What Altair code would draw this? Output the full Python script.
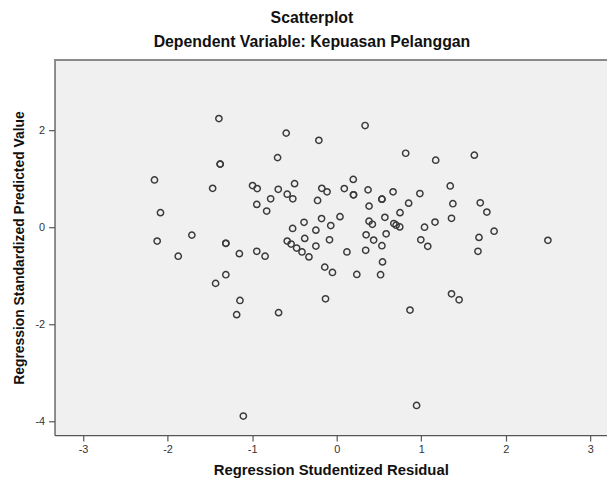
import altair as alt
import pandas as pd

# Regression Studentized Residual (x) and Regression Standardized Predicted Value (y)
residual = [
    -1.393, -0.597, -0.699, -1.378, -1.378, -2.155, -1.467, -0.995, -0.940, -0.498,
    -0.691, -0.585, -0.519, -0.781, -0.945, -0.828, -2.084, -0.386, -0.521, 0.336,
    -0.211, 0.816, 1.171, 1.628, 0.196, -0.176, -0.114, 0.090, 0.199, 0.199,
    0.371, 0.667, 0.984, 1.343, -0.226, 0.535, 0.535, 0.851, 1.374, 0.383,
    0.749, 0.039, -0.179, 0.570, 1.358, 0.383, 0.422, -0.070, 0.676, 0.703,
    0.746, 1.039, 1.163, -0.246, 1.698, 1.776, 1.862, -2.123, -1.713, -1.874,
    -1.311, -1.311, -1.151, -0.945, -0.847, -1.311, -1.432, -1.144, -1.183, -0.687,
    -0.378, -0.585, -0.539, -0.474, -0.410, -0.328, -0.085, -0.246, 0.121, -0.141,
    -0.050, 0.238, 0.519, 0.542, 0.348, 0.437, 0.343, 0.535, 0.585, 0.995,
    1.077, -0.132, 0.867, 1.358, 1.448, 1.683, 1.671, 2.498, -1.104, 0.945,
]
predicted = [
    2.242, 1.942, 1.437, 1.303, 1.303, 0.976, 0.804, 0.860, 0.798, 0.900,
    0.784, 0.682, 0.588, 0.588, 0.472, 0.335, 0.302, 0.104, -0.024, 2.099,
    1.793, 1.527, 1.384, 1.488, 0.988, 0.804, 0.731, 0.798, 0.670, 0.670,
    0.772, 0.731, 0.696, 0.853, 0.553, 0.580, 0.580, 0.498, 0.486, 0.437,
    0.302, 0.220, 0.180, 0.206, 0.186, 0.125, 0.063, 0.037, 0.078, 0.043,
    0.008, 0.002, 0.108, -0.059, 0.506, 0.314, -0.080, -0.284, -0.161, -0.596,
    -0.331, -0.331, -0.543, -0.494, -0.596, -0.978, -1.156, -1.509, -1.801, -1.760,
    -0.229, -0.284, -0.345, -0.427, -0.508, -0.610, -0.257, -0.386, -0.508, -0.821,
    -0.931, -0.972, -0.978, -0.713, -0.155, -0.263, -0.474, -0.380, -0.135, -0.257,
    -0.392, -1.474, -1.707, -1.372, -1.494, -0.208, -0.494, -0.269, -3.891, -3.673,
]
x_ticks = [-3, -2, -1, 0, 1, 2, 3]
y_ticks = [-4, -2, 0, 2]

df = pd.DataFrame({"res": residual, "pred": predicted})

FONT = "Liberation Sans"
W, H = 558, 379

points = alt.Chart(df).mark_point(
    shape="circle", filled=False, size=40, strokeWidth=1.5, color="#3a3a3a", opacity=1
).encode(
    x=alt.X("res:Q", scale=alt.Scale(domain=[-3.337, 3.197], nice=False, zero=False),
            axis=alt.Axis(values=x_ticks, title="Regression Studentized Residual",
                          grid=False, labelExpr="'' + datum.value")),
    y=alt.Y("pred:Q", scale=alt.Scale(domain=[-4.285, 3.452], nice=False, zero=False),
            axis=alt.Axis(values=y_ticks, title="Regression Standardized Predicted Value",
                          grid=False, labelExpr="'' + datum.value")),
)

top_border = alt.Chart(df).mark_rule(color="#8a8a8a", strokeWidth=1.2).encode(
    x=alt.value(0), x2=alt.value(W), y=alt.value(0)
)

chart = alt.layer(points, top_border).properties(
    width=W, height=H,
    autosize=alt.AutoSizeParams(type="none"),
    padding={"left": 47, "top": 50, "right": 0, "bottom": 52},
    title=alt.TitleParams(
        text="Scatterplot",
        subtitle="Dependent Variable: Kepuasan Pelanggan",
        font=FONT, subtitleFont=FONT,
        fontSize=16, subtitleFontSize=16,
        fontWeight="bold", subtitleFontWeight="bold",
        color="#111111", subtitleColor="#111111",
        anchor="middle", dx=-19, offset=9, subtitlePadding=9,
    ),
).configure_view(
    fill="#f0f0f0", stroke=None
).configure_axis(
    domainColor="#555555", domainWidth=1.3,
    tickColor="#555555", tickSize=6, tickWidth=1.2,
    labelFont=FONT, labelFontSize=11, labelColor="#333333",
    titleFont=FONT, titleFontSize=15, titleFontWeight="bold", titleColor="#111111",
).configure_axisX(
    labelPadding=3, titlePadding=8
).configure_axisY(
    labelPadding=4, titlePadding=9, titleFontSize=14
)

chart.save("out.html", embed_options={"renderer": "svg", "actions": False})
